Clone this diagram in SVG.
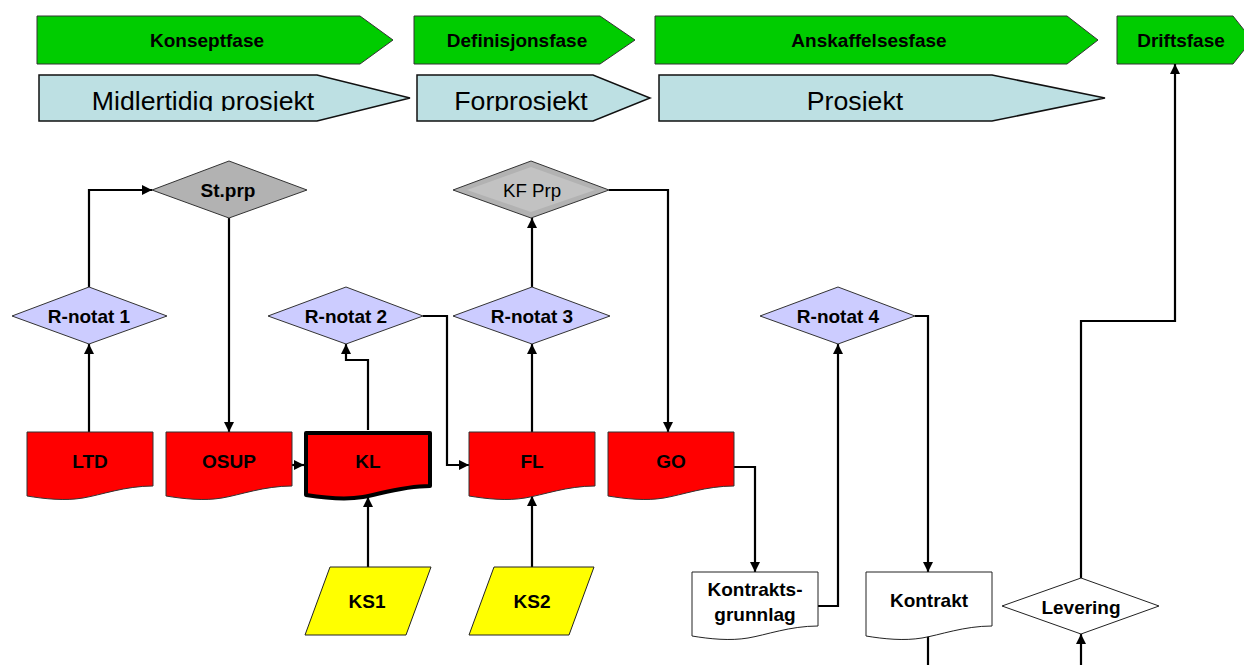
<svg xmlns="http://www.w3.org/2000/svg" width="1244" height="665" viewBox="0 0 1244 665">
  <style>
    text { font-family: "Liberation Sans", Arial, sans-serif; text-anchor: middle; fill: #000; }
    .lbl { font-size: 19px; font-weight: bold; }
    .reg { font-size: 18.7px; }
    .big { font-size: 26.7px; }
    .phase { fill: #00cc00; stroke: #333; stroke-width: 1; }
    .stage { fill: #bde0e3; stroke: #111; stroke-width: 1.5; }
    .review { fill: #ccccff; stroke: #333; stroke-width: 1; }
    .gov { fill: #b2b2b2; stroke: #333; stroke-width: 1; }
    .doc { fill: #ff0000; stroke: #333; stroke-width: 1; }
    .white { fill: #ffffff; stroke: #222; stroke-width: 1; }
    .qa { fill: #ffff00; stroke: #222; stroke-width: 1; }
    .conn { fill: none; stroke: #000; stroke-width: 2.2; }
  </style>
  <defs>
    <marker id="arrow" markerUnits="userSpaceOnUse" markerWidth="12" markerHeight="12" refX="10" refY="5.5" orient="auto">
      <path d="M0,0.5 L10,5.5 L0,10.5 Z" fill="#000"/>
    </marker>
    <clipPath id="stageText">
      <rect x="0" y="75" width="1244" height="36"/>
    </clipPath>
    <path id="docShape" d="M0,0 H126 V54 C98,54 74,63 56,66 C38,69 18,67 0,64 Z"/>
  </defs>

  <!-- phase bar -->
  <g id="konseptfase">
    <polygon class="phase" points="37,16 360,16 393,40 360,64 37,64"/>
    <text class="lbl" x="207" y="47">Konseptfase</text>
  </g>
  <g id="definisjonsfase">
    <polygon class="phase" points="414,16 600,16 635,40 600,64 414,64"/>
    <text class="lbl" x="517" y="47">Definisjonsfase</text>
  </g>
  <g id="anskaffelsesfase">
    <polygon class="phase" points="655,16 1067,16 1098,40 1067,64 655,64"/>
    <text class="lbl" x="869" y="47">Anskaffelsesfase</text>
  </g>
  <g id="driftsfase">
    <polygon class="phase" points="1117,16 1233,16 1252,40 1233,64 1117,64"/>
    <text class="lbl" x="1181" y="47">Driftsfase</text>
  </g>

  <!-- project stages -->
  <g id="midlertidig">
    <polygon class="stage" points="39,75 317,75 410,98 317,121 39,121"/>
    <text class="big" x="203" y="110" clip-path="url(#stageText)">Midlertidig prosjekt</text>
  </g>
  <g id="forprosjekt">
    <polygon class="stage" points="417,75 593,75 650,98 593,121 417,121"/>
    <text class="big" x="521" y="110" clip-path="url(#stageText)">Forprosjekt</text>
  </g>
  <g id="prosjekt">
    <polygon class="stage" points="659,75 992,75 1105,98 992,121 659,121"/>
    <text class="big" x="855" y="110" clip-path="url(#stageText)">Prosjekt</text>
  </g>

  <!-- connectors -->
  <g id="connectors">
    <polyline class="conn" points="89,287 89,190 152,190" marker-end="url(#arrow)"/>
    <polyline class="conn" points="229,218 229,432" marker-end="url(#arrow)"/>
    <polyline class="conn" points="89,432 89,344" marker-end="url(#arrow)"/>
    <polyline class="conn" points="292,465 304,465" marker-end="url(#arrow)"/>
    <polyline class="conn" points="368,430 368,360 346,360 346,344" marker-end="url(#arrow)"/>
    <polyline class="conn" points="423,316 447,316 447,465 469,465" marker-end="url(#arrow)"/>
    <polyline class="conn" points="368,567 368,497" marker-end="url(#arrow)"/>
    <polyline class="conn" points="532,567 532,496" marker-end="url(#arrow)"/>
    <polyline class="conn" points="532,432 532,344" marker-end="url(#arrow)"/>
    <polyline class="conn" points="532,287 532,218" marker-end="url(#arrow)"/>
    <polyline class="conn" points="609,190 668,190 668,432" marker-end="url(#arrow)"/>
    <polyline class="conn" points="734,467 755,467 755,572" marker-end="url(#arrow)"/>
    <polyline class="conn" points="818,606 838,606 838,344" marker-end="url(#arrow)"/>
    <polyline class="conn" points="915,316 928,316 928,572" marker-end="url(#arrow)"/>
    <polyline class="conn" points="928,636 928,670"/>
    <polyline class="conn" points="1081,670 1081,634" marker-end="url(#arrow)"/>
    <polyline class="conn" points="1081,578 1081,321 1175,321 1175,64" marker-end="url(#arrow)"/>
  </g>

  <!-- decision points -->
  <g id="st-prp">
    <polygon class="gov" points="152,190 229,161 307,190 229,218"/>
    <text class="lbl" x="228" y="197">St.prp</text>
  </g>
  <g id="kf-prp">
    <polygon class="gov" points="453,190 531,161 609,190 531,218"/>
    <polygon points="467,190 531,167 595,190 531,212" fill="#c2c2c2"/>
    <text class="reg" x="532" y="197">KF Prp</text>
  </g>
  <g id="r-notat-1">
    <polygon class="review" points="12,316 89,287 167,316 89,344"/>
    <text class="lbl" x="89" y="323">R-notat 1</text>
  </g>
  <g id="r-notat-2">
    <polygon class="review" points="268,316 346,287 423,316 346,344"/>
    <text class="lbl" x="346" y="323">R-notat 2</text>
  </g>
  <g id="r-notat-3">
    <polygon class="review" points="453,316 532,287 610,316 532,344"/>
    <text class="lbl" x="532" y="323">R-notat 3</text>
  </g>
  <g id="r-notat-4">
    <polygon class="review" points="760,316 838,287 915,316 838,344"/>
    <text class="lbl" x="838" y="323">R-notat 4</text>
  </g>
  <g id="levering">
    <polygon class="white" points="1002,606 1081,578 1159,606 1081,634"/>
    <text class="lbl" x="1081" y="614">Levering</text>
  </g>

  <!-- documents -->
  <g id="ltd">
    <use href="#docShape" class="doc" x="27" y="432"/>
    <text class="lbl" x="90" y="468">LTD</text>
  </g>
  <g id="osup">
    <use href="#docShape" class="doc" x="166" y="432"/>
    <text class="lbl" x="229" y="468">OSUP</text>
  </g>
  <g id="kl">
    <path d="M306,433 H430 V486 C403,486 380,494 363,497 C345,500 325,498 306,495 Z" fill="#ff0000" stroke="#000" stroke-width="4" stroke-linejoin="round"/>
    <text class="lbl" x="368" y="468">KL</text>
  </g>
  <g id="fl">
    <use href="#docShape" class="doc" x="469" y="432"/>
    <text class="lbl" x="532" y="468">FL</text>
  </g>
  <g id="go">
    <use href="#docShape" class="doc" x="608" y="432"/>
    <text class="lbl" x="671" y="468">GO</text>
  </g>
  <g id="kontraktsgrunnlag">
    <use href="#docShape" class="white" x="692" y="572"/>
    <text class="lbl" x="755" y="596">Kontrakts-</text>
    <text class="lbl" x="755" y="621">grunnlag</text>
  </g>
  <g id="kontrakt">
    <use href="#docShape" class="white" x="866" y="572"/>
    <text class="lbl" x="929" y="607">Kontrakt</text>
  </g>

  <!-- quality assurance inputs -->
  <g id="ks1">
    <polygon class="qa" points="330,567 431,567 406,635 305,635"/>
    <text class="lbl" x="367" y="608">KS1</text>
  </g>
  <g id="ks2">
    <polygon class="qa" points="494,567 594,567 569,635 469,635"/>
    <text class="lbl" x="532" y="608">KS2</text>
  </g>
</svg>
